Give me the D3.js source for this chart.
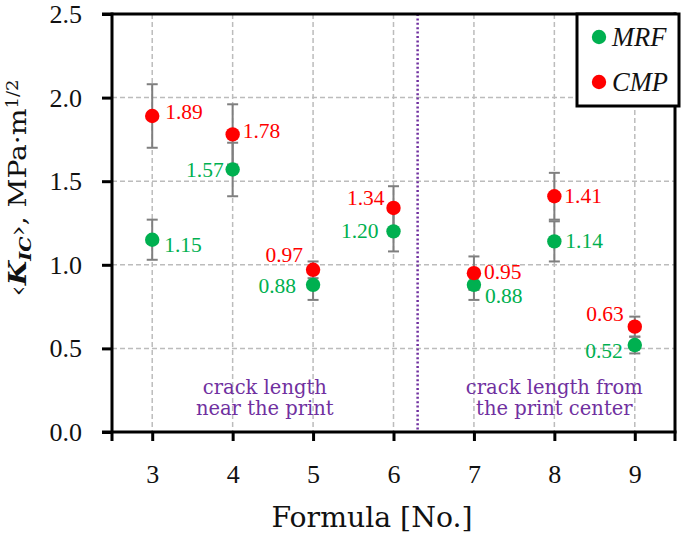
<!DOCTYPE html>
<html>
<head>
<meta charset="utf-8">
<script src="https://cdn.jsdelivr.net/npm/d3@7"></script>
<style>
  html, body { margin: 0; padding: 0; background: #fff; }
  svg { display: block; }
</style>
</head>
<body>
<svg id="chart" width="685" height="536"></svg>
<script>
// ---------------- data ----------------
const formulas   = [3, 4, 5, 6, 7, 8, 9];
const mrfValues  = [1.15, 1.57, 0.88, 1.20, 0.88, 1.14, 0.52];
const mrfErrors  = [0.12, 0.16, 0.09, 0.12, 0.09, 0.12, 0.05];
const cmpValues  = [1.89, 1.78, 0.97, 1.34, 0.95, 1.41, 0.63];
const cmpErrors  = [0.19, 0.18, 0.05, 0.13, 0.10, 0.14, 0.06];
const seriesNames = ["MRF", "CMP"];
const yTickValues = [0, 0.5, 1.0, 1.5, 2.0, 2.5];
const dividerFormula = 6.3;
const regionNoteLines = [
  ["crack length", "near the print"],
  ["crack length from", "the print center"]
];
const regionNoteCenters = [4.4, 8.0];

// ---------------- layout / style ----------------
const colors = { MRF: "#00B050", CMP: "#FF0000" };
const purple = "#7030A0";
// label offsets (dx, dy in px relative to point)
const labelOffsets = {
  MRF: [[12, 5], [-9, 0], [-17, 1], [-15, 0], [11, 11], [11, 0], [-12, 6]],
  CMP: [[13, -4], [10, -3], [-10, -15], [-9, -10], [10, -1], [10, 0], [-11, -13]]
};
const M = { left: 112, right: 675, top: 14, bottom: 432 };
const numFont = "'Liberation Serif', 'Times New Roman', serif";
const txtFont = "'DejaVu Serif', serif";

const svg = d3.select("#chart");
const x = d3.scaleLinear().domain([2.5, 9.5]).range([M.left, M.right]);
const y = d3.scaleLinear().domain([0, 2.5]).range([M.bottom, M.top]);

// grid
const grid = svg.append("g").attr("stroke", "#bcbcbc").attr("stroke-width", 1.5)
  .attr("stroke-dasharray", "5,3").attr("fill", "none");
grid.selectAll("line.v").data(formulas).join("line").attr("class", "v")
  .attr("x1", d => x(d)).attr("x2", d => x(d)).attr("y1", M.top).attr("y2", M.bottom);
grid.selectAll("line.h").data(yTickValues.filter(v => v > 0 && v < 2.5)).join("line").attr("class", "h")
  .attr("x1", M.left).attr("x2", M.right).attr("y1", d => y(d)).attr("y2", d => y(d));

// divider
svg.append("line")
  .attr("x1", x(dividerFormula)).attr("x2", x(dividerFormula))
  .attr("y1", M.top).attr("y2", M.bottom)
  .attr("stroke", purple).attr("stroke-width", 2.5).attr("stroke-dasharray", "2,2.4");

// region notes
regionNoteLines.forEach((lines, i) => {
  const t = svg.append("text").attr("text-anchor", "middle")
    .attr("font-family", txtFont).attr("font-size", 19.5).attr("fill", purple);
  lines.forEach((ln, j) => {
    t.append("tspan").attr("x", x(regionNoteCenters[i])).attr("y", 394 + j * 21).text(ln);
  });
});

// axes
const yAxis = d3.axisLeft(y).tickValues(yTickValues).tickSize(10).tickFormat(d3.format(".1f"));
const gy = svg.append("g").attr("transform", `translate(${M.left},0)`).call(yAxis);
const xAxis = d3.axisBottom(x).tickValues(formulas).tickSize(9).tickFormat(d3.format("d"));
const gx = svg.append("g").attr("transform", `translate(0,${M.bottom})`).call(xAxis);
[gx, gy].forEach(g => {
  g.select(".domain").remove();
  g.selectAll(".tick line").attr("stroke", "#000").attr("stroke-width", 3);
  g.selectAll(".tick text").attr("font-family", numFont).attr("font-size", 26).attr("fill", "#111");
});
gy.selectAll(".tick text").attr("x", -30).attr("dy", "0.33em");
gx.selectAll(".tick text").attr("y", 51).attr("dy", 0);

// frame
const frame = svg.append("g").attr("stroke", "#000").attr("stroke-width", 3).attr("fill", "none");
frame.append("line").attr("x1", M.left - 10).attr("x2", M.right + 1.5).attr("y1", M.top).attr("y2", M.top);
frame.append("line").attr("x1", M.left - 10).attr("x2", M.right + 1.5).attr("y1", M.bottom).attr("y2", M.bottom);
frame.append("line").attr("x1", M.left).attr("x2", M.left).attr("y1", M.top - 1.5).attr("y2", M.bottom + 9);
frame.append("line").attr("x1", M.right).attr("x2", M.right).attr("y1", M.top - 1.5).attr("y2", M.bottom + 9);

// series
const series = [
  { name: "MRF", values: mrfValues, errors: mrfErrors },
  { name: "CMP", values: cmpValues, errors: cmpErrors }
];
const pts = series.flatMap(s => formulas.map((f, i) => ({
  name: s.name, f, v: s.values[i], e: s.errors[i], off: labelOffsets[s.name][i]
})));

// error bars
const eb = svg.append("g").attr("stroke", "#7f7f7f").attr("stroke-width", 2);
pts.forEach(p => {
  eb.append("line").attr("x1", x(p.f)).attr("x2", x(p.f)).attr("y1", y(p.v + p.e)).attr("y2", y(p.v - p.e));
  [p.v + p.e, p.v - p.e].forEach(val => {
    eb.append("line").attr("x1", x(p.f) - 5.5).attr("x2", x(p.f) + 5.5).attr("y1", y(val)).attr("y2", y(val));
  });
});

// dots
svg.append("g").selectAll("circle").data(pts).join("circle")
  .attr("cx", d => x(d.f)).attr("cy", d => y(d.v)).attr("r", 7.2)
  .attr("fill", d => colors[d.name]);

// value labels
svg.append("g").selectAll("text").data(pts).join("text")
  .attr("x", d => x(d.f) + d.off[0]).attr("y", d => y(d.v) + d.off[1])
  .attr("dy", "0.33em")
  .attr("text-anchor", d => d.off[0] < 0 ? "end" : "start")
  .attr("font-family", numFont).attr("font-size", 21.5)
  .attr("fill", d => colors[d.name])
  .text(d => d3.format(".2f")(d.v));

// legend
const lg = svg.append("g");
lg.append("rect").attr("x", 577).attr("y", 14).attr("width", 102).attr("height", 92)
  .attr("fill", "#fff").attr("stroke", "#000").attr("stroke-width", 3);
seriesNames.forEach((n, i) => {
  const cy = 37 + i * 45;
  lg.append("circle").attr("cx", 599).attr("cy", cy).attr("r", 7.2).attr("fill", colors[n]);
  lg.append("text").attr("x", 612).attr("y", cy).attr("dy", "0.35em")
    .attr("font-family", numFont).attr("font-style", "italic").attr("font-size", 26.5)
    .attr("fill", "#111").text(n);
});

// axis titles
svg.append("text").attr("x", 372).attr("y", 527).attr("text-anchor", "middle")
  .attr("font-family", txtFont).attr("font-size", 28).attr("fill", "#111")
  .attr("textLength", 201).attr("lengthAdjust", "spacingAndGlyphs")
  .text("Formula [No.]");

const yt = svg.append("text")
  .attr("transform", "translate(26,188) rotate(-90)")
  .attr("text-anchor", "middle")
  .attr("font-family", txtFont).attr("font-size", 25).attr("fill", "#111")
  .attr("textLength", 217).attr("lengthAdjust", "spacingAndGlyphs");
yt.append("tspan").text("‹");
yt.append("tspan").attr("font-weight", "bold").attr("font-style", "italic").text("K");
yt.append("tspan").attr("font-weight", "bold").attr("font-style", "italic")
  .attr("font-size", 17).attr("dy", 5).text("IC");
yt.append("tspan").attr("dy", -5).text("›, MPa·m");
yt.append("tspan").attr("font-size", 16).attr("dy", -8).text("1/2");
</script>
</body>
</html>
